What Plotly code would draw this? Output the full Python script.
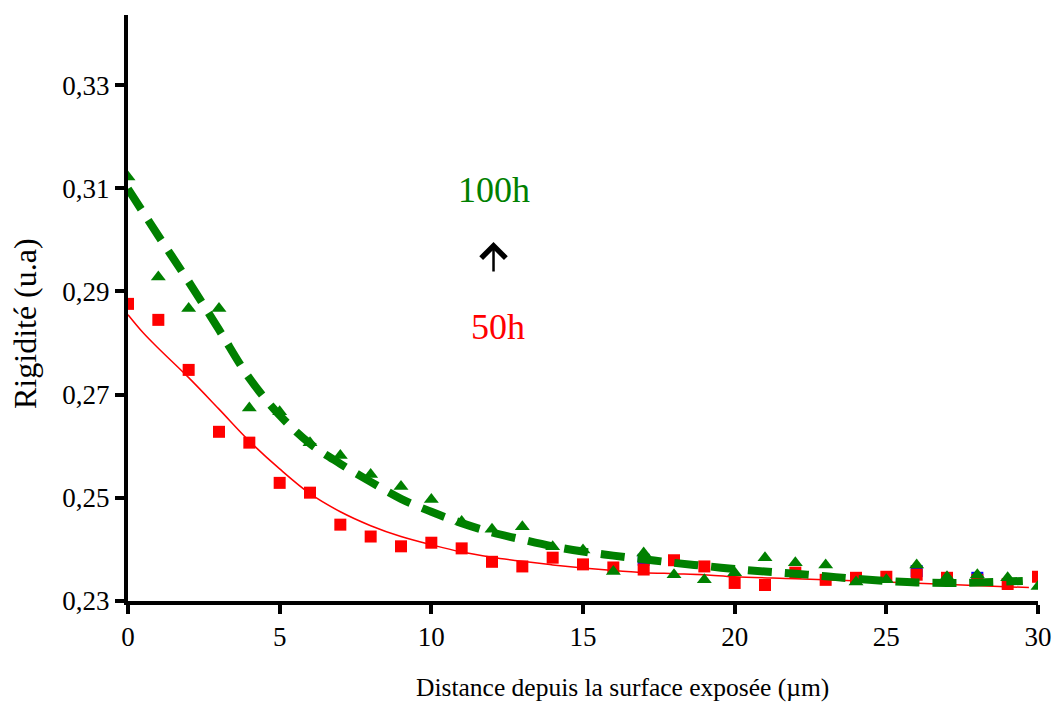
import plotly.graph_objects as go

# ---- data ----
x_pts = list(range(0, 31))

red_50h = [0.2876, 0.2845, 0.2748, 0.2628, 0.2607, 0.2529, 0.2510, 0.2448, 0.2425, 0.2406,
           0.2413, 0.2402, 0.2376, 0.2367, 0.2384, 0.2371, 0.2365, 0.2361, 0.2379, 0.2367,
           0.2335, 0.2331, 0.2355, 0.2341, 0.2345, 0.2347, 0.2351, 0.2345, 0.2341, 0.2333,
           0.2347]

green_100h = [0.3122, 0.2928, 0.2867, 0.2867, 0.2674, 0.2667, 0.2607, 0.2582, 0.2545, 0.2522,
              0.2497, 0.2454, 0.2439, 0.2444, 0.2405, 0.2399, 0.2357, 0.2393, 0.2351, 0.2341,
              0.2355, 0.2384, 0.2374, 0.2370, 0.2337, 0.2341, 0.2370, 0.2347, 0.2351, 0.2345,
              0.2328]

blue_x = [17, 26, 28]
blue_y = [0.2380, 0.2358, 0.2345]

red_fit_x = [0, 0.5, 1, 2, 3, 4, 5, 6, 7, 8, 9, 10, 11, 12, 13, 14, 15, 16, 17, 18, 19, 20,
             22, 25, 27.5, 29.7]
red_fit_y = [0.2855, 0.2820, 0.2790, 0.2733, 0.2672, 0.2610, 0.2556, 0.2508, 0.2473, 0.2446,
             0.2425, 0.2409, 0.2395, 0.2385, 0.2377, 0.2370, 0.2364, 0.2359, 0.2355, 0.2353,
             0.2351, 0.2347, 0.2343, 0.2337, 0.2331, 0.2326]

green_fit_x = [0, 1, 2, 3, 4, 5, 6, 7, 8, 9, 10, 11, 12, 13, 14, 15, 16, 17, 18, 19, 20,
               21, 22, 23, 24, 25, 26, 27, 28, 29.5]
green_fit_y = [0.3099, 0.3008, 0.2919, 0.2826, 0.2732, 0.2660, 0.2605, 0.2566, 0.2531, 0.2498,
               0.2473, 0.2451, 0.2433, 0.2419, 0.2406, 0.2396, 0.2388, 0.2381, 0.2374, 0.2368,
               0.2362, 0.2357, 0.2353, 0.2348, 0.2343, 0.2339, 0.2336, 0.2335, 0.2336, 0.2339]

x_ticks = [0, 5, 10, 15, 20, 25, 30]
y_ticks = [0.23, 0.25, 0.27, 0.29, 0.31, 0.33]
y_ticktext = ["0,23", "0,25", "0,27", "0,29", "0,31", "0,33"]

RED = "#ff0000"
GREEN = "#008000"
BLUE = "#0000ff"
FONT = "Liberation Serif"

fig = go.Figure()
fig.add_trace(go.Scatter(x=blue_x, y=blue_y, mode="markers",
                         marker=dict(symbol="square", size=12, color=BLUE), showlegend=False))
fig.add_trace(go.Scatter(x=red_fit_x, y=red_fit_y, mode="lines", line=dict(color=RED, width=1.5),
                         line_shape="spline", showlegend=False))
fig.add_trace(go.Scatter(x=x_pts, y=red_50h, mode="markers",
                         marker=dict(symbol="square", size=12, color=RED), showlegend=False))
fig.add_trace(go.Scatter(x=green_fit_x, y=green_fit_y, mode="lines", line_shape="spline",
                         line=dict(color=GREEN, width=8, dash="24px,13px"), showlegend=False))
fig.add_trace(go.Scatter(x=x_pts, y=green_100h, mode="markers",
                         marker=dict(symbol="triangle-up", size=13, color=GREEN), showlegend=False))

fig.update_layout(
    width=1052, height=701,
    margin=dict(l=120, r=22, t=7, b=108),
    paper_bgcolor="white", plot_bgcolor="white",
    font=dict(family=FONT, color="black"),
    xaxis=dict(range=[0, 30], tickvals=x_ticks, ticks="outside", ticklen=9, tickwidth=4,
               tickcolor="black", showline=True, linecolor="black", linewidth=4,
               showgrid=False, zeroline=False, tickfont=dict(size=27, family=FONT)),
    yaxis=dict(range=[0.23, 0.3436], tickvals=y_ticks, ticktext=y_ticktext, ticks="outside",
               ticklen=9, tickwidth=4, tickcolor="black", showline=True, linecolor="black",
               linewidth=4, showgrid=False, zeroline=False, tickfont=dict(size=27, family=FONT)),
    annotations=[
        dict(text="Distance depuis la surface exposée (µm)", xref="paper", yref="paper",
             x=0.543, y=-0.148, xanchor="center", yanchor="middle", showarrow=False,
             font=dict(size=25.5, family=FONT, color="black")),
        dict(text="Rigidité (u.a)", xref="paper", yref="paper", x=-0.113, y=0.473,
             xanchor="center", yanchor="middle", textangle=-90, showarrow=False,
             font=dict(size=32, family=FONT, color="black")),
        dict(text="100h", x=12.05, y=0.3097, xref="x", yref="y", showarrow=False,
             font=dict(size=36, family=FONT, color=GREEN)),
        dict(text="50h", x=12.2, y=0.2832, xref="x", yref="y", showarrow=False,
             font=dict(size=36, family=FONT, color=RED)),
        dict(text="", x=12.05, y=0.2996, xref="x", yref="y", showarrow=True, ax=0, ay=31,
             arrowhead=4, arrowwidth=2.5, arrowsize=1.9, arrowcolor="black"),
    ],
)

fig.write_html("out.html")
